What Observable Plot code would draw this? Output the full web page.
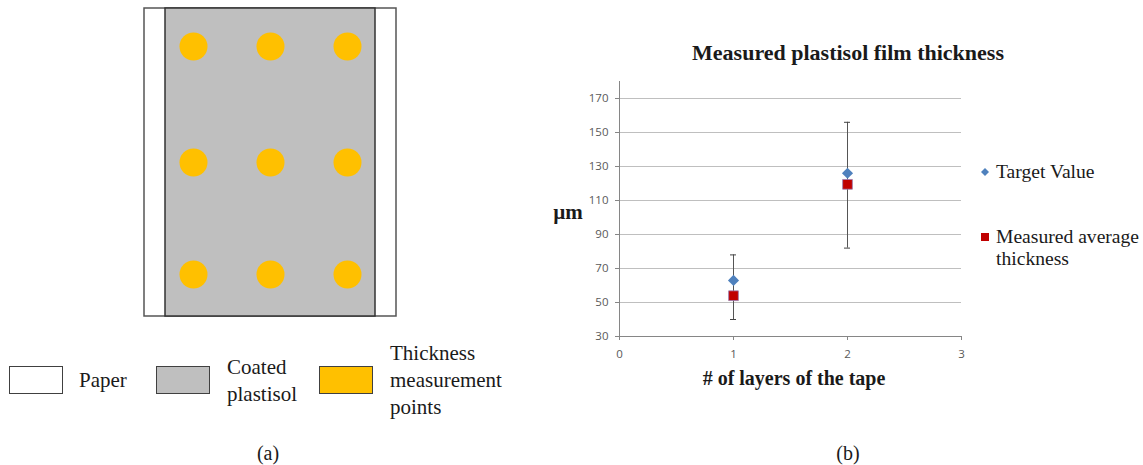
<!DOCTYPE html>
<html>
<head>
<meta charset="utf-8">
<script src="https://cdn.jsdelivr.net/npm/d3@7"></script>
<script src="https://cdn.jsdelivr.net/npm/@observablehq/plot@0.6"></script>
<style>
  html, body { margin: 0; padding: 0; background: #fff; }
  #fig { position: relative; width: 1143px; height: 465px; overflow: hidden; font-family: "Liberation Serif", "Times New Roman", serif; color: #1a1a1a; }
  .abs { position: absolute; white-space: nowrap; }
  .c { transform: translate(-50%, -50%); }
  .lm { transform: translate(0, -50%); }
  .swatch { position: absolute; box-sizing: border-box; border: 1.5px solid #404040; }
</style>
</head>
<body>
<div id="fig"></div>
<script>
// ---------- Panel (a): sample layout (sheet units) ----------
const sheetX = [0, 252];          // paper edges across
const sheetY = [0, 308];          // paper edges along
const coatX = [21, 231];          // coated plastisol band
const pointCols = [49, 126, 203]; // measurement point columns
const pointRows = [38, 154, 266]; // measurement point rows
const legendA = ["Paper", "Coated\nplastisol", "Thickness\nmeasurement\npoints"];
const legendAColors = ["#ffffff", "#bfbfbf", "#ffc000"];

// ---------- Panel (b): measured film thickness ----------
const layers = [1, 2];
const target = [63, 126];
const measured = [54, 119.5];
const errLow = [40, 82];
const errHigh = [78, 156];
const yTicks = [30, 50, 70, 90, 110, 130, 150, 170];
const xTicks = [0, 1, 2, 3];
const seriesNames = ["Target Value", "Measured average\nthickness"];
const seriesColors = ["#4f81bd", "#c00000"];

const fig = document.getElementById("fig");

function addText(txt, left, top, cls, style) {
  const d = document.createElement("div");
  d.className = "abs " + cls;
  d.style.left = left + "px";
  d.style.top = top + "px";
  Object.assign(d.style, style || {});
  d.textContent = txt;
  fig.appendChild(d);
  return d;
}

// ---- Panel (a) diagram ----
const points = d3.cross(pointCols, pointRows).map(([x, y]) => ({x, y}));
const diagram = Plot.plot({
  width: 268, height: 324,
  marginLeft: 8, marginRight: 8, marginTop: 8, marginBottom: 8,
  x: {domain: sheetX, axis: null},
  y: {domain: sheetY, reverse: true, axis: null},
  marks: [
    Plot.rect([{x1: sheetX[0], x2: sheetX[1], y1: sheetY[0], y2: sheetY[1]}],
      {x1: "x1", x2: "x2", y1: "y1", y2: "y2", fill: legendAColors[0], stroke: "#555", strokeWidth: 1.5}),
    Plot.rect([{x1: coatX[0], x2: coatX[1], y1: sheetY[0], y2: sheetY[1]}],
      {x1: "x1", x2: "x2", y1: "y1", y2: "y2", fill: legendAColors[1], stroke: "#333", strokeWidth: 1.5}),
    Plot.dot(points, {x: "x", y: "y", r: 14, fill: legendAColors[2]})
  ]
});
diagram.style.position = "absolute";
diagram.style.left = "136px";
diagram.style.top = "0px";
fig.appendChild(diagram);

// legend (a)
const swA = [[9, 366], [156, 366], [319, 366]];
const txtA = [79, 227, 390];
legendA.forEach((lab, i) => {
  const s = document.createElement("div");
  s.className = "swatch";
  s.style.left = swA[i][0] + "px";
  s.style.top = swA[i][1] + "px";
  s.style.width = "54px";
  s.style.height = "28px";
  s.style.background = legendAColors[i];
  fig.appendChild(s);
  const lines = lab.split("\n");
  const cy = 380;
  lines.forEach((ln, j) => {
    addText(ln, txtA[i], cy + (j - (lines.length - 1) / 2) * 27, "lm", {fontSize: "21px"});
  });
});
addText("(a)", 268, 453, "c", {fontSize: "20px"});

// ---- Panel (b) chart ----
const rows = layers.map((l, i) => ({layers: l, target: target[i], measured: measured[i], lo: errLow[i], hi: errHigh[i]}));
const chart = Plot.plot({
  width: 440, height: 330,
  marginLeft: 79, marginRight: 19, marginTop: 11, marginBottom: 64,
  style: {fontFamily: "'Open Sans', sans-serif", fontSize: "11.5px", color: "#595959", background: "transparent"},
  x: {domain: [0, 3], label: null},
  y: {domain: [30, 180], label: null},
  marks: [
    Plot.ruleY(yTicks.slice(1), {stroke: "#bfbfbf", strokeWidth: 1}),
    Plot.ruleY([yTicks[0]], {stroke: "#868686", strokeWidth: 1}),
    Plot.ruleX([xTicks[0]], {stroke: "#868686", strokeWidth: 1}),
    Plot.axisY({ticks: yTicks, tickSize: 4, tickPadding: 7, stroke: "#868686", fill: "#595959", label: null}),
    Plot.axisX({ticks: xTicks, tickFormat: d3.format("d"), tickSize: 4, tickPadding: 9, stroke: "#868686", fill: "#595959", label: null}),
    Plot.ruleX(rows, {x: "layers", y1: "lo", y2: "hi", stroke: "#555", strokeWidth: 1}),
    Plot.ruleY(rows, {y: "lo", x1: "layers", x2: "layers", insetLeft: -3, insetRight: -3, stroke: "#444", strokeWidth: 1}),
    Plot.ruleY(rows, {y: "hi", x1: "layers", x2: "layers", insetLeft: -3, insetRight: -3, stroke: "#444", strokeWidth: 1}),
    Plot.dot(rows, {x: "layers", y: "target", symbol: "diamond2", r: 5, fill: seriesColors[0], stroke: "none"}),
    Plot.dot(rows, {x: "layers", y: "measured", symbol: "square", r: 5.5, fill: seriesColors[1], stroke: "#9b7fb3", strokeWidth: 0.8})
  ]
});
chart.style.position = "absolute";
chart.style.left = "540px";
chart.style.top = "70px";
fig.appendChild(chart);

addText("Measured plastisol film thickness", 848, 53, "c", {fontSize: "22px", fontWeight: "bold"});
addText("# of layers of the tape", 794, 378, "c", {fontSize: "20px", fontWeight: "bold"});
addText("\u00b5m", 568, 212, "c", {fontSize: "21px", fontWeight: "bold"});
addText("(b)", 848, 453, "c", {fontSize: "20px"});

// legend (b)
const legB = [{y: 172, sym: "diamond"}, {y: 237, sym: "square"}];
legB.forEach((it, i) => {
  const svg = d3.create("svg").attr("width", 12).attr("height", 12)
    .style("position", "absolute").style("left", (985 - 6) + "px").style("top", (it.y - 6) + "px");
  if (it.sym === "diamond") svg.append("path").attr("d", "M6,2L10,6L6,10L2,6Z").attr("fill", seriesColors[i]);
  else svg.append("rect").attr("x", 2).attr("y", 2).attr("width", 8).attr("height", 8).attr("fill", seriesColors[i]);
  fig.appendChild(svg.node());
  seriesNames[i].split("\n").forEach((ln, j) => {
    addText(ln, 996, it.y + j * 22, "lm", {fontSize: "19.6px"});
  });
});
</script>
</body>
</html>
